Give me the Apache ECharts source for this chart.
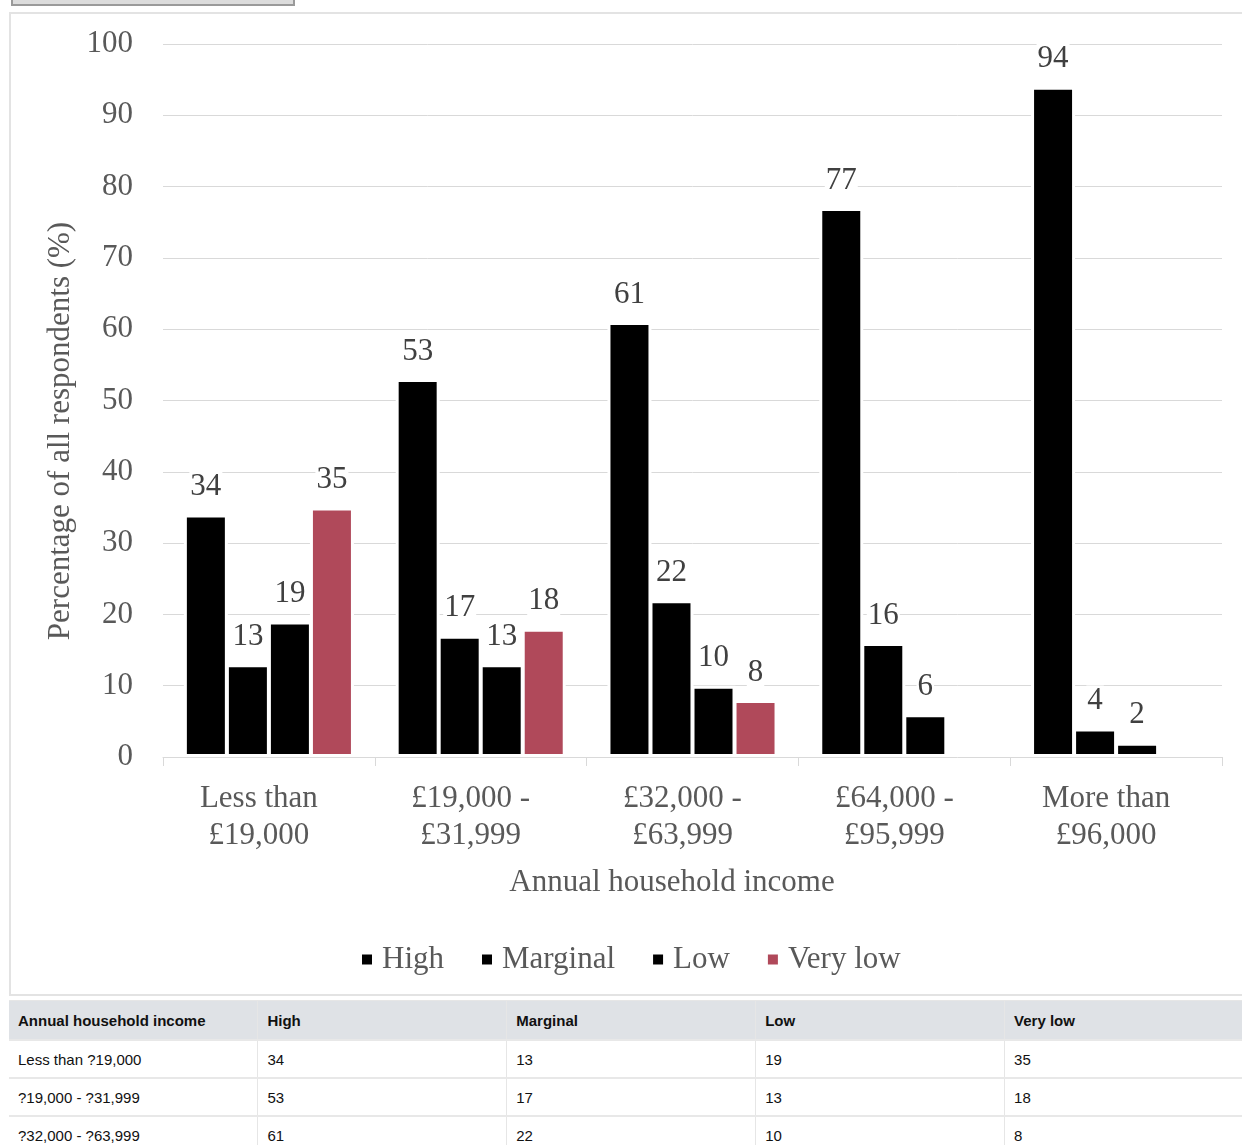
<!DOCTYPE html>
<html>
<head>
<meta charset="utf-8">
<title>Food security by annual household income</title>
<script src="https://cdn.jsdelivr.net/npm/echarts@6/dist/echarts.min.js"></script>
<style>
  html, body { margin: 0; padding: 0; background: #fff; overflow: hidden; }
  body { position: relative; width: 1242px; height: 1145px; }
  .btn { position: absolute; left: 11px; top: -20px; width: 280px; height: 22px;
         background: #dcdcdc; border: 2px solid #9a9a9a; }
  .frame { position: absolute; left: 9px; top: 12px; width: 1300px; height: 984px;
           border: 2px solid #e3e3e3; box-sizing: border-box; }
  #chart { position: absolute; left: 0; top: 0; width: 1242px; height: 998px; }
  table { position: absolute; left: 9px; top: 1000px; width: 1245px; border-collapse: collapse;
          font-family: "Liberation Sans", Arial, sans-serif; font-size: 15px; color: #111;
          table-layout: fixed; border-top: 1px solid #e6e6e6; }
  th, td { text-align: left; padding: 0 0 0 9px; border-right: 1px solid #e6e6e6;
           border-bottom: 2px solid #e8e8e8; white-space: nowrap; }
  th { background: #dfe2e6; height: 38px; font-weight: bold; }
  td { height: 36px; }
</style>
</head>
<body>
<div class="btn"></div>
<div class="frame"></div>
<div id="chart"></div>
<table id="dataTable"></table>
<script>
// Household food security, by annual household income band (% of respondents)
const categories = ['Less than\n£19,000', '£19,000 -\n£31,999', '£32,000 -\n£63,999', '£64,000 -\n£95,999', 'More than\n£96,000'];
const tableIncomeLabels = ['Less than ?19,000', '?19,000 - ?31,999', '?32,000 - ?63,999', '?64,000 - ?95,999', 'More than ?96,000'];
const seriesNames = ['High', 'Marginal', 'Low', 'Very low'];
const high = [34, 53, 61, 77, 94];
const marginal = [13, 17, 22, 16, 4];
const low = [19, 13, 10, 6, 2];
const veryLow = [35, 18, 8, 0, 0];
const yTicks = { min: 0, max: 100, interval: 10 };

const seriesValues = [high, marginal, low, veryLow];
const seriesColors = ['#000000', '#000000', '#000000', '#b0495a'];
const serif = '"Liberation Serif", "Times New Roman", serif';

const chart = echarts.init(document.getElementById('chart'), null, { renderer: 'canvas' });

chart.setOption({
  animation: false,
  grid: { left: 163, right: 20, top: 44, bottom: 241, containLabel: false },
  legend: {
    left: 355, top: 939,
    icon: 'rect', itemWidth: 12, itemHeight: 12, itemGap: 36,
    textStyle: { fontFamily: serif, fontSize: 31, color: '#595959', padding: [3, 0, 0, 4] },
    data: seriesNames
  },
  xAxis: {
    type: 'category',
    data: categories,
    z: 5,
    axisLine: { lineStyle: { color: '#d9d9d9', width: 1 } },
    axisTick: { show: true, length: 9, lineStyle: { color: '#d9d9d9' } },
    axisLabel: { fontFamily: serif, fontSize: 31, lineHeight: 37, color: '#595959',
                 margin: 23, padding: [0, 20, 0, 0] },
    splitLine: { show: false }
  },
  yAxis: {
    type: 'value',
    min: yTicks.min, max: yTicks.max, interval: yTicks.interval,
    axisLine: { show: false },
    axisTick: { show: false },
    axisLabel: { fontFamily: serif, fontSize: 31, color: '#595959', margin: 30, padding: [8, 0, 0, 0] },
    splitLine: { lineStyle: { color: '#d9d9d9', width: 1 } }
  },
  graphic: [
    { type: 'text', x: 672, y: 883,
      style: { text: 'Annual household income', font: '31px ' + serif, fill: '#595959',
               align: 'center', verticalAlign: 'middle' } },
    { type: 'text', x: 61, y: 431, rotation: Math.PI / 2,
      style: { text: 'Percentage of all respondents (%)', font: '31px ' + serif, fill: '#595959',
               align: 'center', verticalAlign: 'middle' } }
  ],
  series: seriesNames.map((name, i) => ({
    name,
    type: 'bar',
    data: seriesValues[i],
    barWidth: 44,
    barGap: '-4.5%',
    itemStyle: { color: seriesColors[i], borderColor: '#ffffff', borderWidth: 3 },
    label: {
      show: true, position: 'top', distance: 12,
      fontFamily: serif, fontSize: 31, color: '#404040',
      backgroundColor: '#ffffff', padding: [0, 1],
      formatter: p => (p.value === 0 ? '' : String(p.value))
    }
  }))
});

// Data table under the chart
const table = document.getElementById('dataTable');
let html = '<tr><th>Annual household income</th>' + seriesNames.map(n => '<th>' + n + '</th>').join('') + '</tr>';
tableIncomeLabels.forEach((label, r) => {
  html += '<tr><td>' + label + '</td>' + seriesValues.map(v => '<td>' + v[r] + '</td>').join('') + '</tr>';
});
table.innerHTML = html;
</script>
</body>
</html>
